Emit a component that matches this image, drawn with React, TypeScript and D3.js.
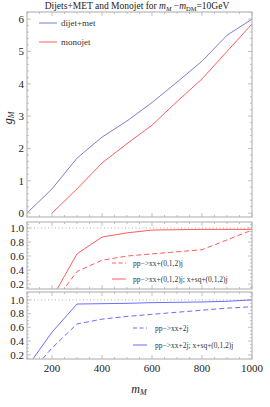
import React from "react";
import * as d3 from "d3";

const massX = [100, 200, 300, 400, 500, 600, 700, 800, 900, 1000];
const dijetMet = [0, 0.75, 1.7, 2.35, 2.85, 3.42, 4.05, 4.7, 5.5, 6.0];
const monojetMass = [200, 300, 400, 500, 600, 700, 800, 900, 1000];
const monojet = [0, 0.75, 1.55, 2.15, 2.72, 3.45, 4.15, 5.0, 5.85];

const effMass = [200, 300, 400, 500, 600, 700, 800, 900, 1000];
const redDashed = [-0.1, 0.38, 0.54, 0.6, 0.63, 0.66, 0.69, 0.83, 0.97];
const redSolid = [0.0, 0.63, 0.87, 0.93, 0.97, 0.975, 0.98, 0.98, 0.98];

const blueMass = [100, 200, 300, 400, 500, 600, 700, 800, 900, 1000];
const blueDashed = [-0.12, 0.3, 0.65, 0.72, 0.76, 0.79, 0.82, 0.85, 0.88, 0.9];
const blueSolid = [0.02, 0.53, 0.94, 0.945, 0.95, 0.96, 0.965, 0.97, 0.98, 1.0];

const xTicks = [200, 400, 600, 800, 1000];
const topTicks = [0, 1, 2, 3, 4, 5, 6];
const effTicks = [0.2, 0.4, 0.6, 0.8, 1.0];

const FONT = "'Liberation Serif', 'DejaVu Serif', serif";
const FRAME = "#b8b8b8";
const BLUE_TOP = "#6e6ed2";
const RED = "#ff4a4a";
const BLUE = "#5a5aff";

const L = 27, R = 252;

type Panel = { top: number; bottom: number; domain: [number, number]; major: number[]; minorStep: number; fmt: (v: number) => string };

function Frame({ p, id, x, children }: { p: Panel; id: string; x: d3.ScaleLinear<number, number>; children: React.ReactNode }) {
  const y = d3.scaleLinear().domain(p.domain).range([p.bottom, p.top]);
  const minorY = d3.range(Math.ceil(p.domain[0] / p.minorStep) * p.minorStep, p.domain[1] + 1e-9, p.minorStep);
  const minorX = d3.range(100, 1001, 50);
  return (
    <g>
      <defs>
        <clipPath id={id}>
          <rect x={L} y={p.top} width={R - L} height={p.bottom - p.top} />
        </clipPath>
      </defs>
      <g clipPath={`url(#${id})`}>{children}</g>
      {minorY.map((v, i) => {
        const isMajor = p.major.some((m) => Math.abs(m - v) < 1e-6);
        const len = isMajor ? 4 : 2;
        return (
          <g key={"y" + i} stroke="#999" strokeWidth={0.6}>
            <line x1={L} x2={L + len} y1={y(v)} y2={y(v)} />
            <line x1={R} x2={R - len} y1={y(v)} y2={y(v)} />
          </g>
        );
      })}
      {minorX.map((v, i) => {
        const isMajor = v % 200 === 0;
        const len = isMajor ? 4 : 2;
        return (
          <g key={"x" + i} stroke="#999" strokeWidth={0.6}>
            <line x1={x(v)} x2={x(v)} y1={p.bottom} y2={p.bottom - len} />
            <line x1={x(v)} x2={x(v)} y1={p.top} y2={p.top + len} />
          </g>
        );
      })}
      <rect x={L} y={p.top} width={R - L} height={p.bottom - p.top} fill="none" stroke={FRAME} strokeWidth={1.2} />
      {p.major.map((v) => (
        <text key={v} x={L - 3} y={y(v)} dy="0.35em" textAnchor="end" fontFamily={FONT} fontSize={11} fill="#222">
          {p.fmt(v)}
        </text>
      ))}
    </g>
  );
}

export default function App() {
  const x = d3.scaleLinear().domain([100, 1000]).range([L, R]);
  const p1: Panel = { top: 12, bottom: 217, domain: [-0.12, 6.22], major: topTicks, minorStep: 0.2, fmt: (v) => String(v) };
  const p2: Panel = { top: 222, bottom: 289, domain: [0.13, 1.085], major: effTicks, minorStep: 0.05, fmt: (v) => v.toFixed(1) };
  const p3: Panel = { top: 292, bottom: 359, domain: [0.14, 1.115], major: effTicks, minorStep: 0.05, fmt: (v) => v.toFixed(1) };
  const y1 = d3.scaleLinear().domain(p1.domain).range([p1.bottom, p1.top]);
  const y2 = d3.scaleLinear().domain(p2.domain).range([p2.bottom, p2.top]);
  const y3 = d3.scaleLinear().domain(p3.domain).range([p3.bottom, p3.top]);

  const mk = (ys: d3.ScaleLinear<number, number>, xs: number[], vs: number[]) =>
    d3.line<number>().x((_, i) => x(xs[i])).y((v) => ys(v))(vs) || "";

  return (
    <svg width={270} height={407} style={{ position: "absolute", left: 0, top: 0 }}>
      <rect width={270} height={407} fill="#fff" />
      <text x={137} y={9} textAnchor="middle" fontFamily={FONT} fontSize={9.5} fill="#222">
        Dijets+MET and Monojet for <tspan fontStyle="italic">m</tspan>
        <tspan fontStyle="italic" fontSize={6.5} dy={1.5}>M</tspan>
        <tspan dy={-1.5}> −</tspan>
        <tspan fontStyle="italic">m</tspan>
        <tspan fontSize={6.5} dy={1.5}>DM</tspan>
        <tspan dy={-1.5}>=10GeV</tspan>
      </text>

      <Frame p={p1} id="c1" x={x}>
        <path d={mk(y1, massX, dijetMet)} fill="none" stroke={BLUE_TOP} strokeWidth={0.9} />
        <path d={mk(y1, monojetMass, monojet)} fill="none" stroke={RED} strokeWidth={0.9} />
      </Frame>
      <g fontFamily={FONT} fontSize={9} fill="#333">
        <line x1={39} x2={57} y1={23} y2={23} stroke={BLUE_TOP} strokeWidth={0.9} />
        <text x={61} y={23} dy="0.35em">dijet+met</text>
        <line x1={39} x2={57} y1={42} y2={42} stroke={RED} strokeWidth={0.9} />
        <text x={61} y={42} dy="0.35em">monojet</text>
      </g>

      <Frame p={p2} id="c2" x={x}>
        <line x1={L} x2={R} y1={y2(1)} y2={y2(1)} stroke="#999" strokeWidth={0.8} strokeDasharray="1,2.5" />
        <path d={mk(y2, effMass, redDashed)} fill="none" stroke={RED} strokeWidth={0.9} strokeDasharray="5,3" />
        <path d={mk(y2, effMass, redSolid)} fill="none" stroke={RED} strokeWidth={0.9} />
      </Frame>
      <g fontFamily={FONT} fontSize={7.5} fill="#333">
        <line x1={112} x2={126} y1={263} y2={263} stroke={RED} strokeWidth={0.9} strokeDasharray="4,2.5" />
        <text x={133} y={263} dy="0.35em">pp−&gt;xx+(0,1,2)j</text>
        <line x1={112} x2={126} y1={279} y2={279} stroke={RED} strokeWidth={0.9} />
        <text x={133} y={279} dy="0.35em">pp−&gt;xx+(0,1,2)j; x+sq+(0,1,2)j</text>
      </g>

      <Frame p={p3} id="c3" x={x}>
        <line x1={L} x2={R} y1={y3(1)} y2={y3(1)} stroke="#999" strokeWidth={0.8} strokeDasharray="1,2.5" />
        <path d={mk(y3, blueMass, blueDashed)} fill="none" stroke={BLUE} strokeWidth={0.9} strokeDasharray="5,3" />
        <path d={mk(y3, blueMass, blueSolid)} fill="none" stroke={BLUE} strokeWidth={0.9} />
      </Frame>
      <g fontFamily={FONT} fontSize={7.5} fill="#333">
        <line x1={133} x2={147} y1={328} y2={328} stroke={BLUE} strokeWidth={0.9} strokeDasharray="4,2.5" />
        <text x={155} y={328} dy="0.35em">pp−&gt;xx+2j</text>
        <line x1={133} x2={147} y1={345} y2={345} stroke={BLUE} strokeWidth={0.9} />
        <text x={155} y={345} dy="0.35em">pp−&gt;xx+2j; x+sq+(0,1,2)j</text>
      </g>

      {xTicks.map((v) => (
        <text key={v} x={x(v)} y={372} textAnchor="middle" fontFamily={FONT} fontSize={11} fill="#222">
          {v}
        </text>
      ))}
      <text x={139} y={393} textAnchor="middle" fontFamily={FONT} fontSize={12} fontStyle="italic" fill="#222">
        m<tspan fontSize={8} dy={2}>M</tspan>
      </text>
      <text transform="translate(12,118) rotate(-90)" textAnchor="middle" fontFamily={FONT} fontSize={12} fontStyle="italic" fill="#222">
        g<tspan fontSize={8} dy={2}>M</tspan>
      </text>
    </svg>
  );
}
